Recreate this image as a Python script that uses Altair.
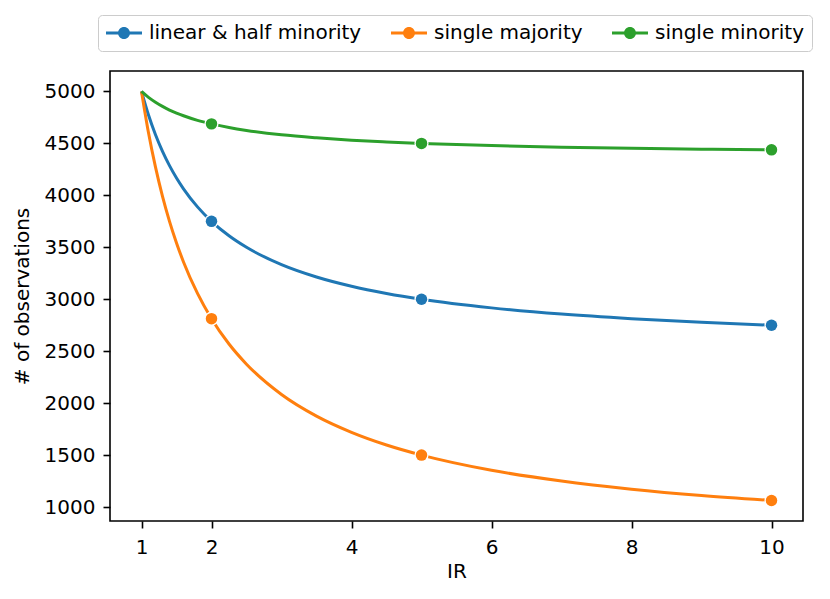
import altair as alt
import pandas as pd

# IR values along the smooth curves
IR_CURVE = [1, 1.1, 1.2, 1.3, 1.4, 1.5, 1.6, 1.8, 2, 2.25, 2.5, 3, 3.5, 4, 4.5, 5, 6, 7, 8, 9, 10]
LINEAR_HALF = [5000, 4773, 4583, 4423, 4286, 4167, 4063, 3889, 3750, 3611, 3500, 3333, 3214, 3125, 3056, 3000, 2917, 2857, 2813, 2778, 2750]
SINGLE_MAJ = [5000, 4602, 4271, 3990, 3750, 3542, 3359, 3056, 2813, 2569, 2375, 2083, 1875, 1719, 1597, 1500, 1354, 1250, 1172, 1111, 1063]
SINGLE_MIN = [5000, 4943, 4896, 4856, 4821, 4792, 4766, 4722, 4688, 4653, 4625, 4583, 4554, 4531, 4514, 4500, 4479, 4464, 4453, 4444, 4438]

# marker positions
IR_MARK = [2, 5, 10]
LINEAR_HALF_MARK = [3750, 3000, 2750]
SINGLE_MAJ_MARK = [2813, 1500, 1063]
SINGLE_MIN_MARK = [4688, 4500, 4438]

SERIES = ["linear & half minority", "single majority", "single minority"]
COLORS = ["#1f77b4", "#ff7f0e", "#2ca02c"]
X_TICKS = [1, 2, 4, 6, 8, 10]
Y_TICKS = [1000, 1500, 2000, 2500, 3000, 3500, 4000, 4500, 5000]

curve_rows = []
for name, vals in zip(SERIES, [LINEAR_HALF, SINGLE_MAJ, SINGLE_MIN]):
    for x, y in zip(IR_CURVE, vals):
        curve_rows.append({"IR": x, "obs": y, "series": name})
curves = pd.DataFrame(curve_rows)

mark_rows = []
for name, vals in zip(SERIES, [LINEAR_HALF_MARK, SINGLE_MAJ_MARK, SINGLE_MIN_MARK]):
    for x, y in zip(IR_MARK, vals):
        mark_rows.append({"IR": x, "obs": y, "series": name})
marks = pd.DataFrame(mark_rows)

xscale = alt.Scale(domain=[0.55, 10.45], nice=False, zero=False)
yscale = alt.Scale(domain=[865.6, 5196.9], nice=False, zero=False)
cscale = alt.Scale(domain=SERIES, range=COLORS)

xenc = alt.X("IR:Q", scale=xscale, title="IR",
             axis=alt.Axis(values=X_TICKS, format="d", grid=False, domain=False,
                           tickSize=7, tickWidth=1.6, tickColor="black",
                           labelPadding=9, labelFontSize=20, labelColor="black",
                           labelFont="DejaVu Sans", titleFont="DejaVu Sans",
                           titleFontSize=20, titleFontWeight="normal", titleColor="black",
                           titlePadding=4, labelFlush=False, labelOverlap=False))
yenc = alt.Y("obs:Q", scale=yscale, title="# of observations",
             axis=alt.Axis(values=Y_TICKS, format="d", grid=False, domain=False,
                           tickSize=7, tickWidth=1.6, tickColor="black",
                           labelPadding=8, labelFontSize=20, labelColor="black",
                           labelFont="DejaVu Sans", titleFont="DejaVu Sans",
                           titleFontSize=20, titleFontWeight="normal", titleColor="black",
                           titlePadding=12, labelFlush=False, labelOverlap=False))

lines = alt.Chart(curves).mark_line(strokeWidth=3, interpolate="monotone").encode(
    x=xenc, y=yenc,
    color=alt.Color("series:N", scale=cscale, legend=None),
    detail="series:N",
)

LEGEND_PATH = ("M-1.8,-0.15L1.8,-0.15L1.8,0.15L-1.8,0.15Z "
               "M-0.6,0A0.6,0.6 0 1,1 0.6,0A0.6,0.6 0 1,1 -0.6,0Z")

rings = alt.Chart(marks).mark_point(filled=True, shape="circle", size=200,
                                    color="white", opacity=1).encode(
    x=alt.X("IR:Q", scale=xscale), y=alt.Y("obs:Q", scale=yscale)
)

dots = alt.Chart(marks).mark_point(filled=True, shape="circle", size=132,
                                   opacity=1, strokeWidth=0).encode(
    x=alt.X("IR:Q", scale=xscale), y=alt.Y("obs:Q", scale=yscale),
    color=alt.Color("series:N", scale=cscale, sort=SERIES,
                    legend=alt.Legend(title=None, orient="none", legendX=-12, legendY=-56,
                                      direction="horizontal", columns=3,
                                      symbolType=LEGEND_PATH, symbolSize=400,
                                      symbolOffset=8,
                                      symbolStrokeWidth=0, symbolOpacity=1,
                                      labelFontSize=20, labelFont="DejaVu Sans",
                                      labelColor="black", labelOffset=15,
                                      columnPadding=29, padding=8,
                                      strokeColor="#cccccc", fillColor="white",
                                      cornerRadius=4, labelLimit=400)),
)

chart = alt.layer(lines, rings, dots).resolve_legend(color="independent").properties(
    width=693, height=450,
    autosize=alt.AutoSizeParams(type="none"),
    padding={"left": 102, "top": 63, "right": 12, "bottom": 76},
).configure(font="DejaVu Sans").configure_view(stroke="black", strokeWidth=1.6)

chart.save("out.html", embed_options={"renderer": "svg", "actions": False})
